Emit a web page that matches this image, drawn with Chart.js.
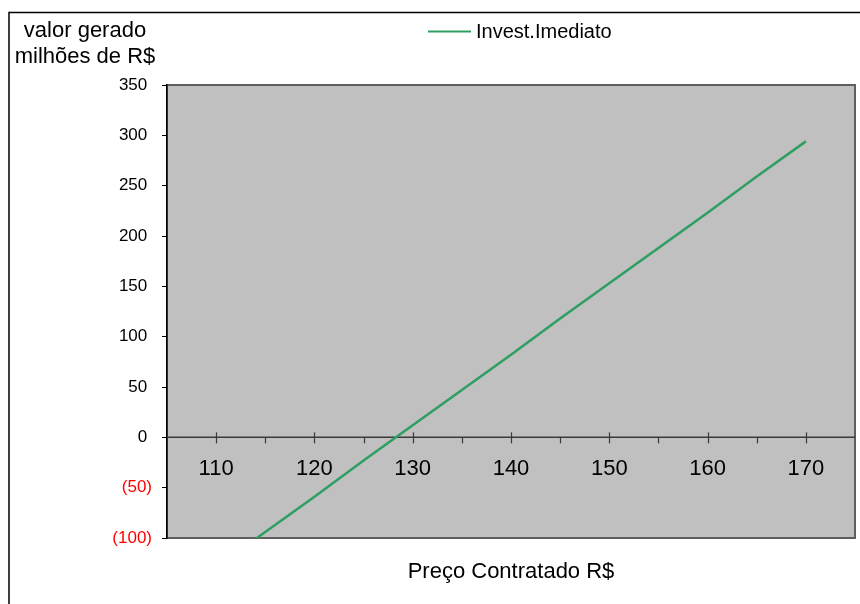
<!DOCTYPE html>
<html>
<head>
<meta charset="utf-8">
<script src="https://cdn.jsdelivr.net/npm/chart.js@4.4.0/dist/chart.umd.min.js"></script>
<style>
  html, body { margin: 0; padding: 0; background: #fff; }
  #wrap { width: 860px; height: 604px; }
</style>
</head>
<body>
<div id="wrap"><canvas id="grafico" width="860" height="604"></canvas></div>
<script>
// dados
const precos = [110, 115, 120, 125, 130, 135, 140, 145, 150, 155, 160, 165, 170];
const valores = [-129, -94, -59, -23, 12, 47, 82, 118, 153, 188, 223, 259, 294];
const yTicks = [-100, -50, 0, 50, 100, 150, 200, 250, 300, 350];
const xLabels = [110, 120, 130, 140, 150, 160, 170];
const serieNome = 'Invest.Imediato';
const tituloY = ['valor gerado', 'milhões de R$'];
const tituloX = 'Preço Contratado R$';

const verde = '#2e9e62';
const fonte = '"Liberation Sans", Arial, sans-serif';

const fundoPlugin = {
  id: 'fundo',
  beforeDraw(chart) {
    const ctx = chart.ctx;
    const a = chart.chartArea;
    ctx.save();
    ctx.fillStyle = '#fff';
    ctx.fillRect(0, 0, chart.width, chart.height);
    // moldura externa
    ctx.strokeStyle = '#000';
    ctx.lineWidth = 1.5;
    ctx.strokeRect(9, 12.5, chart.width + 20, chart.height + 20);
    // area de plotagem
    ctx.fillStyle = '#c0c0c0';
    ctx.fillRect(a.left, a.top, a.right - a.left, a.bottom - a.top);
    ctx.strokeStyle = '#5e5e5e';
    ctx.lineWidth = 2;
    ctx.strokeRect(a.left, a.top, a.right - a.left, a.bottom - a.top);
    ctx.restore();
  },
  beforeDatasetsDraw(chart) {
    const ctx = chart.ctx;
    const xs = chart.scales.x, ys = chart.scales.y;
    const y0 = ys.getPixelForValue(0);
    ctx.save();
    ctx.strokeStyle = '#3a3a3a';
    ctx.lineWidth = 1.5;
    ctx.beginPath();
    ctx.moveTo(chart.chartArea.left, y0);
    ctx.lineTo(chart.chartArea.right, y0);
    ctx.stroke();
    ctx.lineWidth = 1.2;
    xs.ticks.forEach(t => {
      if (t.value <= xs.min || t.value >= xs.max) return;
      const px = Math.round(xs.getPixelForValue(t.value)) + 0.5;
      const major = xLabels.includes(t.value);
      ctx.beginPath();
      ctx.moveTo(px, major ? y0 - 5 : y0);
      ctx.lineTo(px, y0 + 6);
      ctx.stroke();
    });
    ctx.restore();
  },
  afterDraw(chart) {
    const ctx = chart.ctx;
    const a = chart.chartArea;
    ctx.save();
    ctx.fillStyle = '#000';
    ctx.textAlign = 'center';
    ctx.textBaseline = 'alphabetic';
    ctx.font = '22px ' + fonte;
    ctx.fillText(tituloY[0], 85, 37);
    ctx.fillText(tituloY[1], 85, 63);
    ctx.font = '22px ' + fonte;
    ctx.fillText(tituloX, (a.left + a.right) / 2, 578);
    // legenda
    const ds = chart.data.datasets[0];
    ctx.strokeStyle = ds.borderColor;
    ctx.lineWidth = 2;
    ctx.beginPath();
    ctx.moveTo(428, 31.5);
    ctx.lineTo(471, 31.5);
    ctx.stroke();
    ctx.textAlign = 'left';
    ctx.textBaseline = 'middle';
    ctx.font = '20px ' + fonte;
    ctx.fillText(ds.label, 476, 32);
    ctx.restore();
  }
};

new Chart(document.getElementById('grafico').getContext('2d'), {
  type: 'line',
  data: {
    datasets: [{
      label: serieNome,
      data: precos.map((p, i) => ({ x: p, y: valores[i] })),
      borderColor: verde,
      borderWidth: 2.5,
      pointRadius: 0,
      tension: 0,
      fill: false
    }]
  },
  options: {
    responsive: false,
    devicePixelRatio: 1,
    animation: false,
    layout: { padding: { left: 0, top: 85, right: 5, bottom: 66 } },
    plugins: { legend: { display: false }, tooltip: { enabled: false } },
    scales: {
      x: {
        type: 'linear',
        position: { y: 0 },
        min: 105,
        max: 175,
        afterBuildTicks: s => { s.ticks = precos.concat([105, 175]).sort((a, b) => a - b).map(v => ({ value: v })); },
        afterFit: s => { s.paddingLeft = 0; s.paddingRight = 0; },
        ticks: {
          autoSkip: false,
          maxRotation: 0,
          padding: 18,
          color: '#000',
          font: { family: fonte, size: 22 },
          callback: v => xLabels.includes(v) ? String(v) : ''
        },
        grid: { display: false, drawTicks: false },
        border: { display: false }
      },
      y: {
        min: -100,
        max: 350,
        afterFit: s => { s.width = 167; s.paddingTop = 0; s.paddingBottom = 0; },
        afterBuildTicks: s => { s.ticks = yTicks.map(v => ({ value: v })); },
        ticks: {
          padding: 10,
          color: c => c.tick.value < 0 ? '#ff0000' : '#000',
          font: { family: fonte, size: 17 },
          callback: v => v < 0 ? '(' + (-v) + ')' : v + ' '
        },
        grid: { drawOnChartArea: false, drawTicks: true, tickLength: 5, color: '#000' },
        border: { display: true, color: '#000', width: 1.5 }
      }
    }
  },
  plugins: [fundoPlugin]
});
</script>
</body>
</html>
